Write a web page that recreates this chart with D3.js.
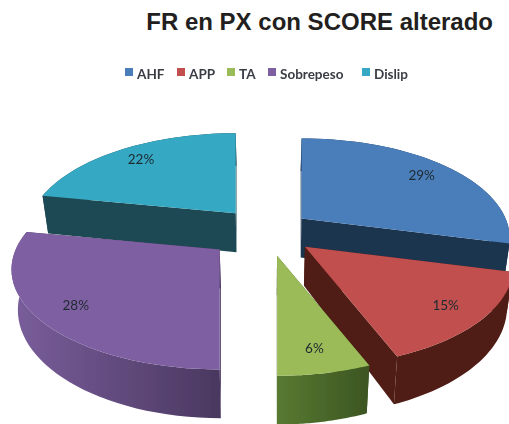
<!DOCTYPE html>
<html>
<head>
<meta charset="utf-8">
<script src="https://d3js.org/d3.v7.min.js"></script>
<style>
  html, body { margin: 0; padding: 0; background: #fff; }
  svg { display: block; }
</style>
</head>
<body>
<div id="chart"></div>
<script>
// data
const categories = ["AHF", "APP", "TA", "Sobrepeso", "Dislip"];
const values = [29, 15, 6, 28, 22];
const title = "FR en PX con SCORE alterado";

const topColors = ["#4a7ebb", "#c0504d", "#9bbb59", "#7e5fa1", "#35a8c4"];
const cutColors = ["#1c3450", "#4f1b14", "#3f5a24", "#4c3a63", "#1f4a52"];
const wallFrom = ["#1c3450", "#4f1b14", "#587a31", "#7a5e9c", "#1f4a52"];
const wallTo = ["#1c3450", "#4f1b14", "#3c5522", "#4a3860", "#1f4a52"];
const drawOrder = [4, 0, 3, 1, 2];
const explode = [0.22, 0.24, 0.25, 0.29, 0.25];

const width = 509, height = 424;
const cx = 267, cy = 231;
const radiusX = 204, radiusY = 96, persp = 0.2;
const depth = 39, labelAt = 0.82;

const svg = d3.select("#chart").append("svg")
  .attr("width", width)
  .attr("height", height);

const defs = svg.append("defs");
defs.append("filter").attr("id", "soft")
  .append("feGaussianBlur").attr("stdDeviation", 0.45);

svg.append("text")
  .attr("x", 493).attr("y", 29.5)
  .attr("text-anchor", "end")
  .attr("font-family", "Liberation Sans, Arial, sans-serif")
  .attr("font-weight", "bold")
  .attr("font-size", 24)
  .attr("fill", "#231f20")
  .text(title);

// legend
const legendX = d3.scaleOrdinal().domain(categories).range([125, 177, 227, 268, 362]);
const legend = svg.append("g").attr("filter", "url(#soft)")
  .selectAll("g").data(categories).join("g")
  .attr("transform", d => `translate(${legendX(d)},68)`);
legend.append("rect")
  .attr("width", 8).attr("height", 8)
  .attr("fill", (d, i) => topColors[i]);
legend.append("text")
  .attr("x", 12).attr("y", 11)
  .attr("font-family", "Lato, sans-serif")
  .attr("font-weight", "bold")
  .attr("font-size", 13.5)
  .attr("fill", "#3a3d45")
  .text(d => d);

// tilted view of the disc: a is clockwise from the top, r is 0..1
function offset(a, r) {
  const X = r * Math.sin(a), Y = r * Math.cos(a);
  const s = 1 / (1 + persp * Y);
  return [radiusX * X * s, -radiusY * Y * s, Y];
}

const arcs = d3.pie().sort(null).startAngle(0).endAngle(2 * Math.PI)(values);
const line = d3.line();

const slices = arcs.map((d, i) => {
  const mid = (d.startAngle + d.endAngle) / 2;
  const o = offset(mid, explode[i]);
  const apex = [cx + o[0], cy + o[1]];
  const steps = d3.range(0, 41).map(k => d.startAngle + (d.endAngle - d.startAngle) * k / 40);
  const top = steps.map(a => {
    const p = offset(a, 1);
    return [apex[0] + p[0], apex[1] + p[1], p[2]];
  });
  // lower rim: a bit further down in front, pulled in towards the middle
  const drop = (p, Y) => [p[0] + (cx - p[0]) * 0.025, p[1] + depth / (1 + persp * Y)];
  const bottom = top.map(p => drop(p, p[2]));
  const apexBottom = drop(apex, 0);
  return { i, mid, apex, top, bottom, apexBottom };
});

const pie3d = svg.append("g").attr("filter", "url(#soft)");

drawOrder.forEach(i => {
  const s = slices[i];
  const g = pie3d.append("g");
  const first = s.top[0], last = s.top[s.top.length - 1];
  const firstB = s.bottom[0], lastB = s.bottom[s.bottom.length - 1];

  g.append("path")
    .attr("d", line([s.apex, first, firstB, s.apexBottom]) + "Z")
    .attr("fill", cutColors[i]);
  g.append("path")
    .attr("d", line([s.apex, last, lastB, s.apexBottom]) + "Z")
    .attr("fill", cutColors[i]);

  const xExt = d3.extent(s.top, p => p[0]);
  const grad = defs.append("linearGradient")
    .attr("id", "wall" + i)
    .attr("gradientUnits", "userSpaceOnUse")
    .attr("x1", xExt[0]).attr("x2", xExt[1])
    .attr("y1", 0).attr("y2", 0);
  grad.append("stop").attr("offset", 0).attr("stop-color", wallFrom[i]);
  grad.append("stop").attr("offset", 1).attr("stop-color", wallTo[i]);

  g.append("path")
    .attr("d", line(s.top.map(p => [p[0], p[1]]).concat(s.bottom.slice().reverse())) + "Z")
    .attr("fill", `url(#wall${i})`);

  g.append("path")
    .attr("d", line([s.apex].concat(s.top.map(p => [p[0], p[1]]))) + "Z")
    .attr("fill", topColors[i]);
});

// percent labels
pie3d.selectAll(".pct")
  .data(slices)
  .join("text")
  .attr("class", "pct")
  .attr("x", d => d.apex[0] + offset(d.mid, labelAt)[0])
  .attr("y", d => d.apex[1] + offset(d.mid, labelAt)[1] + 5)
  .attr("text-anchor", "middle")
  .attr("font-family", "Lato, sans-serif")
  .attr("font-size", 13.5)
  .attr("fill", "#1f2a30")
  .text(d => values[d.i] + "%");
</script>
</body>
</html>
